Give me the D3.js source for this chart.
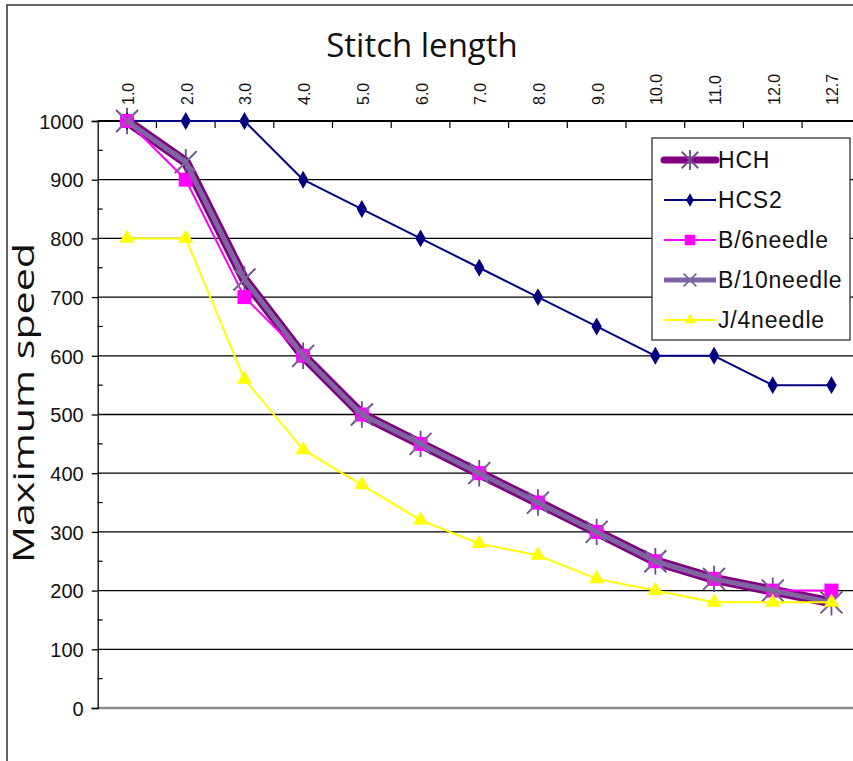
<!DOCTYPE html>
<html>
<head>
<meta charset="utf-8">
<title>Stitch length vs Maximum speed</title>
<script src="https://cdn.jsdelivr.net/npm/d3@7/dist/d3.min.js"></script>
<style>
  body { margin: 0; background: #fff; }
  .ylbl { font-family: "Liberation Sans Narrow", "Liberation Sans", Arial, sans-serif; font-size: 20px; fill: #111; }
  .xlbl { font-family: "Liberation Sans", Arial, sans-serif; font-size: 16px; fill: #111; }
  .leg { font-family: "Liberation Sans Narrow", "Liberation Sans", Arial, sans-serif; font-size: 23px; letter-spacing: 0.8px; fill: #111; }
  .title { font-family: "Open Sans", "Noto Sans", sans-serif; font-size: 33px; fill: #111; }
</style>
</head>
<body>
<script>
var width = 853, height = 761;

var lengths = ["1.0","2.0","3.0","4.0","5.0","6.0","7.0","8.0","9.0","10.0","11.0","12.0","12.7"];
var hch      = [1000, 930, 730, 600, 500, 450, 400, 350, 300, 250, 220, 200, 180];
var hcs2     = [1000, 1000, 1000, 900, 850, 800, 750, 700, 650, 600, 600, 550, 550];
var b6needle = [1000, 900, 700, 600, 500, 450, 400, 350, 300, 250, 220, 200, 200];
var b10needle= [1000, 930, 730, 600, 500, 450, 400, 350, 300, 250, 220, 200, 180];
var j4needle = [800, 800, 560, 440, 380, 320, 280, 260, 220, 200, 180, 180, 180];
var yTicks = [0, 100, 200, 300, 400, 500, 600, 700, 800, 900, 1000];

var series = [
  {name: "HCH", values: hch, color: "#800080", width: 10, marker: "star", mcolor: "#6e4a8a"},
  {name: "HCS2", values: hcs2, color: "#000080", width: 2, marker: "diamond", mcolor: "#000080"},
  {name: "B/6needle", values: b6needle, color: "#ff00ff", width: 2, marker: "square", mcolor: "#ff00ff"},
  {name: "B/10needle", values: b10needle, color: "#8064a2", width: 5, marker: "x", mcolor: "#7c6a9c"},
  {name: "J/4needle", values: j4needle, color: "#ffff00", width: 2, marker: "triangle", mcolor: "#ffff00"}
];

var svg = d3.select("body").append("svg").attr("width", width).attr("height", height);

var plotLeft = 97.7, plotTop = 121, plotBottom = 708;
var x = d3.scaleBand().domain(lengths).range([plotLeft, plotLeft + 58.7 * lengths.length]);
var y = d3.scaleLinear().domain([0, 1000]).range([plotBottom, plotTop]);
var cx = function(i) { return x(lengths[i]) + x.bandwidth() / 2; };

// outer frame
svg.append("rect").attr("x", 7).attr("y", 5).attr("width", 1000).attr("height", 1000)
  .attr("fill", "none").attr("stroke", "#333").attr("stroke-width", 1.5);

// grid lines
svg.selectAll(".grid").data(yTicks.filter(function(d) { return d > 0 && d < 1000; }))
  .enter().append("line")
  .attr("x1", plotLeft).attr("x2", width).attr("y1", y).attr("y2", y)
  .attr("stroke", "#000").attr("stroke-width", 1.3);

// zero line
svg.append("line").attr("x1", plotLeft).attr("x2", width).attr("y1", y(0)).attr("y2", y(0))
  .attr("stroke", "#8a8a8a").attr("stroke-width", 2.5);

// y axis
var yAxis = d3.axisLeft(y).tickValues(yTicks).tickSize(6).tickFormat(d3.format("d"));
var ya = svg.append("g").attr("transform", "translate(" + plotLeft + ",0)").call(yAxis);
ya.attr("font-size", null).attr("font-family", null);
ya.select(".domain").attr("stroke", "#000").attr("stroke-width", 1.3);
ya.selectAll(".tick line").attr("stroke", "#000").attr("stroke-width", 1.3);
ya.selectAll(".tick text").attr("class", "ylbl").attr("x", -14).attr("dy", "0.36em");
// minor ticks
svg.selectAll(".minor").data(d3.range(50, 1000, 100)).enter().append("line")
  .attr("x1", plotLeft).attr("x2", plotLeft + 5).attr("y1", y).attr("y2", y)
  .attr("stroke", "#000").attr("stroke-width", 1.2);

// top category axis
svg.append("line").attr("x1", plotLeft).attr("x2", width).attr("y1", plotTop).attr("y2", plotTop)
  .attr("stroke", "#000").attr("stroke-width", 2);
svg.selectAll(".ctick").data(lengths.slice(1)).enter().append("line")
  .attr("x1", function(d) { return x(d); }).attr("x2", function(d) { return x(d); })
  .attr("y1", plotTop).attr("y2", plotTop + 7)
  .attr("stroke", "#000").attr("stroke-width", 1.2);
svg.selectAll(".clbl").data(lengths).enter().append("text")
  .attr("class", "xlbl")
  .attr("transform", function(d, i) { return "translate(" + (cx(i) + 7) + ",105) rotate(-90)"; })
  .attr("text-anchor", "start")
  .text(function(d) { return d; });

// titles
svg.append("text").attr("class", "title").attr("x", 422).attr("y", 57)
  .attr("text-anchor", "middle").text("Stitch length");
svg.append("text").attr("class", "title").style("font-size", "29px")
  .attr("transform", "translate(34,403) rotate(-90)")
  .attr("text-anchor", "middle")
  .attr("textLength", 320).attr("lengthAdjust", "spacingAndGlyphs")
  .text("Maximum speed");

function drawMarker(g, type, color, s) {
  if (type === "square") {
    g.append("rect").attr("x", -s / 2).attr("y", -s / 2).attr("width", s).attr("height", s).attr("fill", color);
  } else if (type === "diamond") {
    g.append("path").attr("d", d3.symbol(d3.symbolDiamond, s * s * 0.55)()).attr("fill", color);
  } else if (type === "triangle") {
    g.append("path").attr("d", d3.symbol(d3.symbolTriangle, s * s * 0.45)()).attr("fill", color);
  } else if (type === "x" || type === "star") {
    var h = s / 2;
    var p = "M" + (-h) + "," + (-h) + "L" + h + "," + h + "M" + (-h) + "," + h + "L" + h + "," + (-h);
    if (type === "star") p += "M0," + (-h * 1.2) + "L0," + (h * 1.2);
    g.append("path").attr("d", p).attr("stroke", color).attr("stroke-width", 1.8).attr("fill", "none");
  }
}

var msize = {star: 22, diamond: 13, square: 14, x: 17, triangle: 15};

var line = d3.line().x(function(d, i) { return cx(i); }).y(function(d) { return y(d); });
series.forEach(function(s) {
  svg.append("path").datum(s.values).attr("d", line)
    .attr("fill", "none").attr("stroke", s.color).attr("stroke-width", s.width)
    .attr("stroke-linejoin", "round");
  s.values.forEach(function(v, i) {
    var g = svg.append("g").attr("transform", "translate(" + cx(i) + "," + y(v) + ")");
    drawMarker(g, s.marker, s.mcolor, msize[s.marker]);
  });
});

// legend
var lg = svg.append("g");
lg.append("rect").attr("x", 652).attr("y", 138).attr("width", 198).attr("height", 202)
  .attr("fill", "#fff").attr("stroke", "#222").attr("stroke-width", 1.2);
series.forEach(function(s, k) {
  var ly = 160 + k * 40;
  lg.append("line").attr("x1", 664).attr("x2", 716).attr("y1", ly).attr("y2", ly)
    .attr("stroke", s.color).attr("stroke-width", Math.min(s.width, 7)).attr("stroke-linecap", k === 0 ? "round" : "butt");
  var g = lg.append("g").attr("transform", "translate(690," + ly + ")");
  drawMarker(g, s.marker, s.mcolor, msize[s.marker] * 0.75);
  lg.append("text").attr("class", "leg").attr("x", 718).attr("y", ly + 8).text(s.name);
});
</script>
</body>
</html>
